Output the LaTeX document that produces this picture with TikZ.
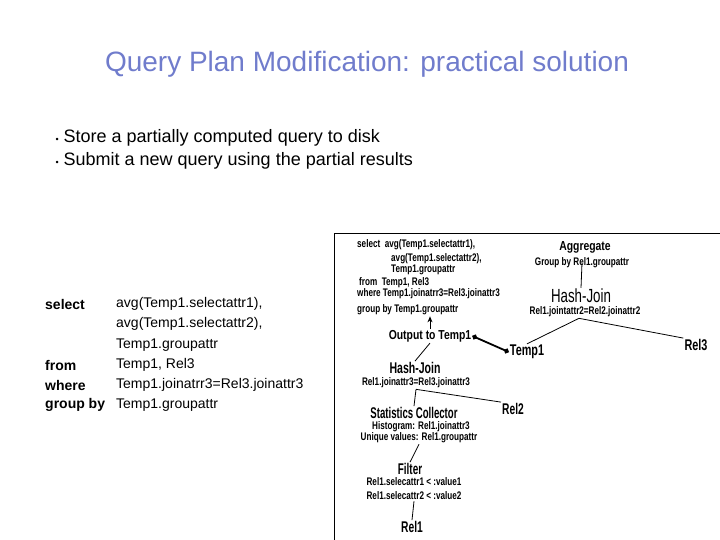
\documentclass[tikz,border=0pt]{standalone}
\usepackage{fontspec}
\setmainfont{Liberation Sans}
\usetikzlibrary{positioning,arrows.meta}
\definecolor{titleblue}{RGB}{112,124,204}
\newcommand{\nar}[2][.74]{\scalebox{#1}[1]{#2}}

\begin{document}
\begin{tikzpicture}[x=1pt, y=-1pt,
  sm/.style = {font = \bfseries\fontsize{11}{12}\selectfont, inner sep = 1pt},
  op/.style = {font = \bfseries\fontsize{13}{14}\selectfont, inner sep = 1pt},
  opt/.style = {font = \bfseries\fontsize{15.5}{17}\selectfont, inner sep = 1pt},
  opbig/.style = {font = \fontsize{19}{21}\selectfont, inner sep = 1pt},
  kw/.style = {font = \bfseries\fontsize{14}{16}\selectfont, anchor = west, inner sep = 0pt},
  val/.style = {font = \fontsize{14}{16}\selectfont, anchor = west, inner sep = 0pt},
  edge/.style = {line width = 0.8pt}]
\useasboundingbox (0,0) rectangle (720,540);

% title and bullets
\node[font = \fontsize{28}{30}\selectfont, text = titleblue] (title) at (367,64) {Query Plan Modification: practical solution};
\node[font = \fontsize{18}{20}\selectfont, anchor = west] (b1) at (52,138) {{\fontsize{9}{9}\selectfont\textbullet}\ Store a partially computed query to disk};
\node[font = \fontsize{18}{20}\selectfont, anchor = west] (b2) at (52,161) {{\fontsize{9}{9}\selectfont\textbullet}\ Submit a new query using the partial results};

% the new query
\node[kw] (kselect) at (45,304) {select};
\node[val] (vsel1) at (116,304) {avg(Temp1.selectattr1),};
\node[val] (vsel2) at (116,324) {avg(Temp1.selectattr2),};
\node[val] (vsel3) at (116,345) {Temp1.groupattr};
\node[kw] (kfrom) at (45,365) {from};
\node[val] (vfrom) at (116,365) {Temp1, Rel3};
\node[kw] (kwhere) at (45,385) {where};
\node[val] (vwhere) at (116,385) {Temp1.joinatrr3=Rel3.joinattr3};
\node[kw] (kgroup) at (45,405) {group by};
\node[val] (vgroup) at (116,405) {Temp1.groupattr};

% plan
\draw[line width = 1pt] (334,540) |- (720,233);
\node[sm, anchor = west] (sq1) at (356,245) {\nar{select\ \ avg(Temp1.selectattr1),}};
\node[sm, anchor = west] (sq2) at (390,259) {\nar{avg(Temp1.selectattr2),}};
\node[sm, anchor = west] (sq3) at (390,270) {\nar{Temp1.groupattr}};
\node[sm, anchor = west] (sq4) at (358,283) {\nar{from\ \ Temp1, Rel3}};
\node[sm, anchor = west] (sq5) at (356,294) {\nar{where Temp1.joinatrr3=Rel3.joinattr3}};
\node[sm, anchor = west] (sq6) at (356,310) {\nar{group by Temp1.groupattr}};
\node[op] (out) at (430,336) {\nar[.8]{Output to Temp1}};
\node[opt] (t1) at (527,352) {\nar[.7]{Temp1}};
\node[opt] (r3) at (696,345) {\nar[.7]{Rel3}};
\node[op] (agg) at (585,247) {\nar[.8]{Aggregate}};
\node[sm] (grp) at (582,263) {\nar{Group by Rel1.groupattr}};
\node[opbig] (hj1) at (581,296) {\nar[.7]{Hash-Join}};
\node[sm] (jc1) at (585,312) {\nar{Rel1.jointattr2=Rel2.joinattr2}};
\node[opt] (hj2) at (415,368) {\nar[.68]{Hash-Join}};
\node[sm] (jc2) at (416,383) {\nar{Rel1.joinattr3=Rel3.joinattr3}};
\node[opt] (r2) at (513,409) {\nar[.66]{Rel2}};
\node[opt] (sc) at (414,413) {\nar[.62]{Statistics Collector}};
\node[sm] (hg) at (421,427) {\nar{Histogram: Rel1.joinattr3}};
\node[sm] (uv) at (419,438) {\nar{Unique values: Rel1.groupattr}};
\node[opt] (fi) at (410,469) {\nar[.64]{Filter}};
\node[sm] (f1) at (414,482) {\nar{Rel1.selecattr1 < :value1}};
\node[sm] (f2) at (414,496) {\nar{Rel1.selecattr2 < :value2}};
\node[opt] (r1) at (412,527) {\nar[.66]{Rel1}};

\draw[edge] (grp.center) -- (hj1.north);
\draw[edge] ([xshift = -6pt]jc1.south) -- (t1.north);
\draw[edge] ([xshift = -6pt]jc1.south) -- (r3.north west);
\draw[edge, -{Stealth[length = 6pt, width = 5pt]}] (out.north) -- (out.north |- sq6.south);
\draw[line width = 1.8pt, {Circle[length = 5pt]}-{Circle[length = 5pt]}] (out.east) -- (t1.west);
\draw[edge] (out.south) -- (hj2.north);
\draw[edge] (jc2.south) -- (sc.north);
\draw[edge] (jc2.south) -- (r2.north west);
\draw[edge] (uv.south) -- (fi.north);
\draw[edge] (f2.south) -- (r1.north);
\end{tikzpicture}
\end{document}
